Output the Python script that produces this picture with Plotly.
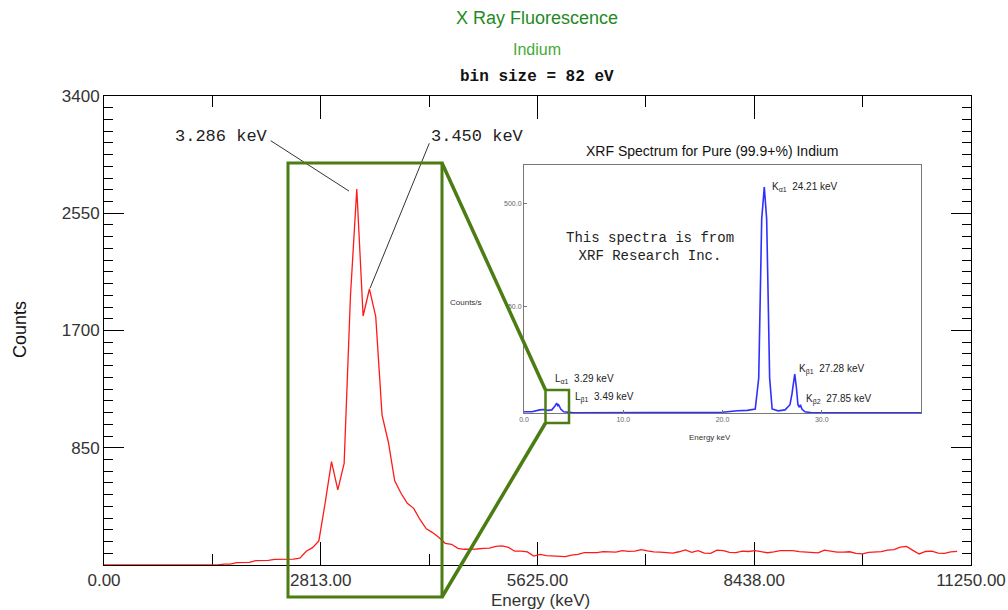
import plotly.graph_objects as go

# ---------------- data ----------------
bin_size_ev = 82
counts = [0, 0, 0, 3, 5, 0, 0, 0, 0, 0, 0, 0, 0, 0, 0, 0, 0, 0, 0, 6, 6,
          17, 17, 19, 31, 31, 33, 41, 41, 42, 43, 50, 100, 126, 175, 450, 749, 544, 737, 1950, 2726,
          1805, 2001, 1800, 1087, 890, 610, 520, 447, 411, 330, 262, 235, 200, 157, 150, 121, 114,
          114, 116, 121, 123, 135, 138, 128, 100, 101, 95, 65, 77, 68, 65, 64, 60, 72, 77, 89, 89,
          90, 97, 95, 94, 104, 99, 100, 112, 102, 95, 94, 92, 86, 96, 109, 92, 104, 86, 85, 108,
          104, 92, 90, 100, 98, 104, 98, 89, 95, 104, 104, 104, 97, 94, 90, 88, 108, 100, 94, 93,
          96, 85, 80, 92, 95, 97, 108, 112, 130, 135, 106, 80, 98, 100, 86, 85, 95, 99]
energy_ev = [i * bin_size_ev for i in range(len(counts))]

x_tickvals = [0, 2813, 5625, 8438, 11250]
x_ticktext = ["0.00", "2813.00", "5625.00", "8438.00", "11250.00"]
x_minor = [1406.25, 4218.75, 7031.25, 9843.75]
y_tickvals = [0, 850, 1700, 2550, 3400]
y_ticktext = ["", "850", "1700", "2550", "3400"]

peak_labels = ["3.286 keV", "3.450 keV"]
# annotation line endpoints (energy eV, counts)
peak_line1 = [(2163, 3076), (3179, 2711)]
peak_line2 = [(4221, 3057), (3452, 2006)]

# inset (reference spectrum, XRF Research Inc.)
inset_energy_kev = [0.0, 0.8, 1.6, 2.0, 2.4, 2.8, 3.1, 3.29, 3.4, 3.49, 3.7, 4.0, 5.0, 10.0, 15.0,
                    20.0, 21.5, 22.5, 23.3, 23.65, 23.8, 23.95, 24.21, 24.45, 24.6, 24.75, 25.0,
                    25.6, 26.3, 26.8, 27.0, 27.15, 27.28, 27.45, 27.6, 27.75, 27.85, 28.0, 28.3,
                    29.0, 32.0, 36.0, 40.0]
inset_counts = [4.7, 4.7, 4.9, 4.95, 4.85, 4.9, 5.3, 5.7, 5.4, 5.5, 5.0, 4.7, 4.6, 4.6, 4.6,
                4.65, 4.8, 4.85, 5.0, 10, 60, 350, 718, 350, 60, 10, 5.0,
                4.8, 4.9, 5.5, 7.0, 9.5, 10.9, 8.0, 5.5, 5.2, 5.5, 5.0, 4.7,
                4.6, 4.6, 4.6, 4.6]
inset_x_tickvals = [0, 10, 20, 30]
inset_x_ticktext = ["0.0", "10.0", "20.0", "30.0"]
inset_y_tickvals = [50, 500]
inset_y_ticktext = ["50.0", "500.0"]

# ---------------- layout helpers (pixel -> paper) ----------------
W, H = 1008, 610
PL, PR, PT, PB = 104, 971, 96, 565


def px(x):
    return (x - PL) / (PR - PL)


def py(y):
    return (PB - y) / (PB - PT)


SANS = "Liberation Sans, Arial, sans-serif"
MONO = "Liberation Mono, Courier New, monospace"
GREEN_BOX = "#4b7d13"

fig = go.Figure()
fig.add_trace(go.Scatter(x=energy_ev, y=counts, mode="lines",
                         line=dict(color="#ff1a1a", width=1.3), showlegend=False,
                         xaxis="x", yaxis="y"))
fig.add_trace(go.Scatter(x=inset_energy_kev, y=inset_counts, mode="lines",
                         line=dict(color="#2f2fff", width=1.6), showlegend=False,
                         xaxis="x2", yaxis="y2"))

axis_common = dict(showgrid=False, zeroline=False, showline=True, linecolor="black",
                   linewidth=1, mirror="ticks", ticks="inside", tickcolor="black",
                   tickwidth=1, layer="below traces", automargin=False)

fig.update_layout(
    width=W, height=H,
    margin=dict(l=PL, r=W - PR, t=PT, b=H - PB, pad=0, autoexpand=False),
    paper_bgcolor="white", plot_bgcolor="white",
    xaxis=dict(domain=[0, 1], range=[0, 11250], tickmode="array", tickvals=x_tickvals,
               ticktext=x_ticktext, ticklen=23,
               tickfont=dict(family=SANS, size=17, color="#333"),
               minor=dict(tickmode="array", tickvals=x_minor, ticklen=11, ticks="inside",
                          tickcolor="black", tickwidth=1),
               **axis_common),
    yaxis=dict(domain=[0, 1], range=[0, 3400], tickmode="array", tickvals=y_tickvals,
               ticktext=y_ticktext, ticklen=20,
               tickfont=dict(family=SANS, size=17, color="#333"),
               minor=dict(dtick=85, tick0=0, ticklen=9, ticks="inside",
                          tickcolor="black", tickwidth=1),
               **axis_common),
    xaxis2=dict(domain=[px(524), px(921)], anchor="y2", range=[0, 40], tickmode="array",
                tickvals=inset_x_tickvals, ticktext=inset_x_ticktext, showgrid=False,
                zeroline=False, showline=True, linecolor="#777", linewidth=1, mirror=True,
                ticks="inside", ticklen=3, tickcolor="#777", automargin=False,
                tickfont=dict(family=SANS, size=7, color="#666")),
    yaxis2=dict(domain=[py(413), py(165)], anchor="x2", type="log", range=[0.66, 3.07],
                tickmode="array", tickvals=inset_y_tickvals, ticktext=inset_y_ticktext,
                showgrid=False, zeroline=False, showline=True, linecolor="#777",
                linewidth=1, mirror=True, ticks="inside", ticklen=3, tickcolor="#777",
                automargin=False, tickfont=dict(family=SANS, size=7, color="#666")),
)

ann = []


def add_text(text, x, y, size, family=SANS, color="#222", xanchor="center", angle=0):
    ann.append(dict(text=text, x=px(x), y=py(y), xref="paper", yref="paper",
                    showarrow=False, xanchor=xanchor, yanchor="middle", textangle=angle,
                    font=dict(family=family, size=size, color=color)))


add_text("X Ray Fluorescence", 537, 18, 18, color="#1f8a1f")
add_text("Indium", 537, 50, 16, color="#46aa3c")
add_text("<b>bin size = 82 eV</b>", 537, 77, 16, family=MONO, color="#111")
add_text("Counts", 20, 330, 18, color="#111", angle=-90)
add_text("Energy (keV)", 540, 600, 17, color="#333")
add_text(peak_labels[0], 221, 136, 17, family=MONO, color="#222")
add_text(peak_labels[1], 477.5, 136, 17, family=MONO, color="#222")

# inset texts
add_text("XRF Spectrum for Pure (99.9+%) Indium", 712.5, 151, 14, color="#111")
add_text("This spectra is from<br>XRF Research Inc.", 650, 246.5, 14, family=MONO, color="#222")
add_text("Counts/s", 466, 302, 8, color="#333")
add_text("Energy keV", 710, 437, 8, color="#333")
add_text("K<sub>α1</sub>  24.21 keV", 770, 187, 10, color="#222", xanchor="left")
add_text("K<sub>β1</sub>  27.28 keV", 797, 369, 10, color="#222", xanchor="left")
add_text("K<sub>β2</sub>  27.85 keV", 804, 399, 10, color="#222", xanchor="left")
add_text("L<sub>α1</sub>  3.29 keV", 553, 379, 10, color="#222", xanchor="left")
add_text("L<sub>β1</sub>  3.49 keV", 573, 397, 10, color="#222", xanchor="left")

fig.update_layout(annotations=ann)

shapes = []
for (x0, y0), (x1, y1) in [peak_line1, peak_line2]:
    shapes.append(dict(type="line", xref="x", yref="y", x0=x0, y0=y0, x1=x1, y1=y1,
                       line=dict(color="#333", width=1)))
# zoom box and connecting lines
shapes.append(dict(type="rect", xref="paper", yref="paper", x0=px(288), x1=px(442),
                   y0=py(597), y1=py(163), line=dict(color=GREEN_BOX, width=3)))
shapes.append(dict(type="rect", xref="paper", yref="paper", x0=px(545.5), x1=px(569),
                   y0=py(423), y1=py(390), line=dict(color=GREEN_BOX, width=2.5)))
shapes.append(dict(type="line", xref="paper", yref="paper", x0=px(442), y0=py(163),
                   x1=px(545.5), y1=py(390), line=dict(color=GREEN_BOX, width=3.5)))
shapes.append(dict(type="line", xref="paper", yref="paper", x0=px(442), y0=py(597),
                   x1=px(545.5), y1=py(423), line=dict(color=GREEN_BOX, width=3.5)))
fig.update_layout(shapes=shapes)

fig.write_html("out.html")
